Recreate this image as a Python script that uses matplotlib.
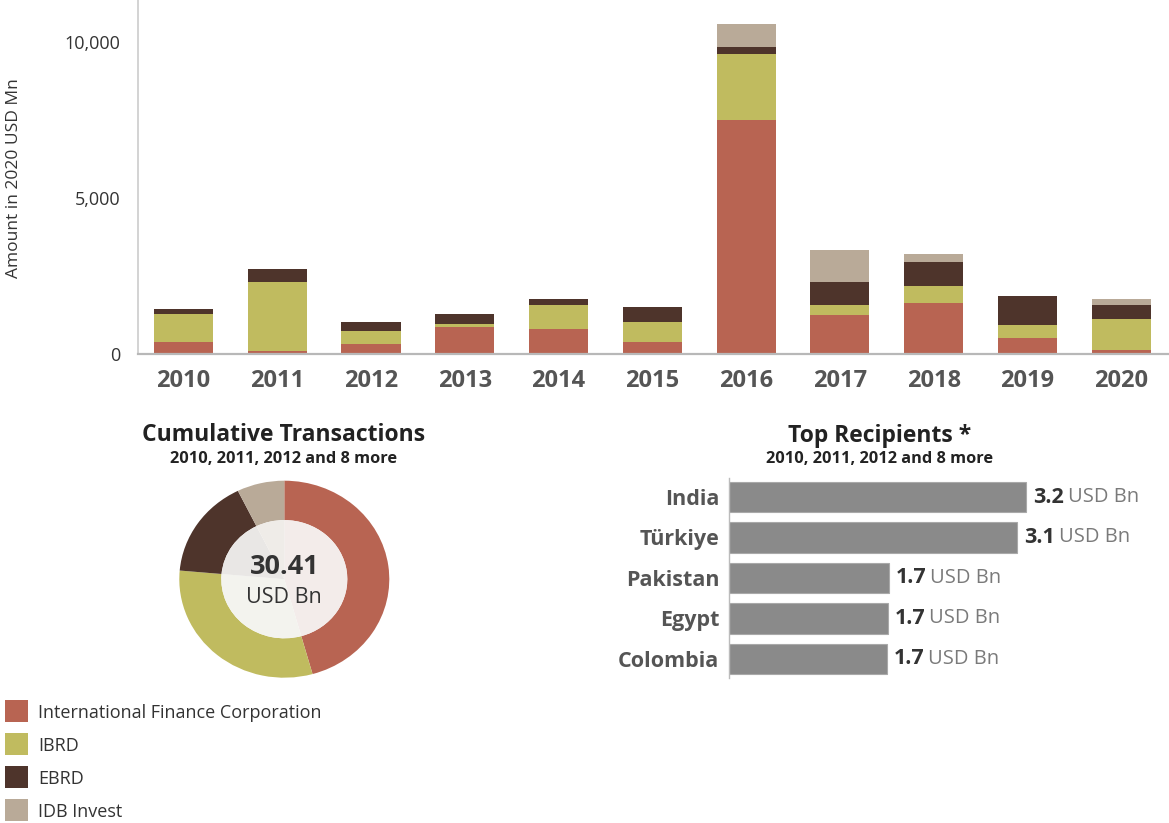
import matplotlib
matplotlib.use("Agg")
import matplotlib.pyplot as plt
import matplotlib.transforms as mtransforms
from matplotlib.patches import Rectangle
import numpy as np

# ---- data (2020 USD Mn) ----
years = ["2010", "2011", "2012", "2013", "2014", "2015", "2016", "2017", "2018", "2019", "2020"]
ifc = [394, 96, 330, 864, 810, 394, 7500, 1238, 1640, 502, 118]
ibrd = [877, 2212, 416, 96, 749, 630, 2090, 320, 522, 426, 1011]
ebrd = [170, 397, 278, 310, 202, 470, 243, 755, 768, 938, 429]
idb = [0, 0, 0, 0, 0, 0, 736, 1010, 278, 0, 192]

lenders = ["International Finance Corporation", "IBRD", "EBRD", "IDB Invest"]
colors = ["#b86452", "#c0bb5f", "#4e342b", "#b9aa98"]

countries = ["India", "Türkiye", "Pakistan", "Egypt", "Colombia"]
recipient_bn = [3.24, 3.14, 1.74, 1.73, 1.72]

y_ticks = [0, 5000, 10000]
y_tick_labels = ["0", "5,000", "10,000"]

period_text = "2010, 2011, 2012 and 8 more"

REG = "Open Sans"
W, H = 1169, 823
fig = plt.figure(figsize=(W / 100, H / 100), dpi=100)
fig.patch.set_facecolor("white")


def box(left, top, right, bottom):
    return [left / W, 1 - bottom / H, (right - left) / W, (bottom - top) / H]


def fpos(x, y):
    return x / W, 1 - y / H


# ---- stacked yearly bars ----
ax = fig.add_axes(box(138, 0, 1169, 354))
x = np.arange(len(years))
series = [ifc, ibrd, ebrd, idb]
bottom = np.zeros(len(years))
for vals, col in zip(series, colors):
    ax.bar(x, vals, width=0.63, bottom=bottom, color=col, linewidth=0)
    bottom += np.array(vals)
ax.set_xlim(-0.485, 10.51)
ax.set_ylim(0, 11330)
ax.set_yticks(y_ticks)
ax.set_yticklabels(y_tick_labels, fontsize=13, color="#333333", family=REG)
# keep the zero label clear of the baseline
zero_lbl = ax.get_yticklabels()[0]
zero_lbl.set_transform(zero_lbl.get_transform() +
                       mtransforms.ScaledTranslation(0, 5 / 100, fig.dpi_scale_trans))
ax.set_xticks(x)
ax.set_xticklabels(years, fontsize=17, fontweight="bold", color="#555555", family=REG)
ax.tick_params(axis="both", length=0)
ax.tick_params(axis="y", pad=13)
ax.tick_params(axis="x", pad=11)
for s in ["top", "right"]:
    ax.spines[s].set_visible(False)
ax.spines["left"].set_color("#d0d0d0")
ax.spines["left"].set_linewidth(1.3)
ax.spines["bottom"].set_color("#b8b8b8")
ax.spines["bottom"].set_linewidth(1.6)
fig.text(*fpos(14, 178), "Amount in 2020 USD Mn", rotation=90, ha="center", va="center",
         fontsize=12.5, color="#333333", family=REG)

# ---- cumulative donut ----
totals = [sum(v) for v in series]
grand_total = sum(totals)
cx, cy = 284.3, 579.2
rx, ry = 105.0, 98.5
hw, hh = 120, 110
dax = fig.add_axes(box(cx - hw, cy - hh, cx + hw, cy + hh))
dax.axis("off")
dax.pie(totals, colors=colors, startangle=90, counterclock=False, radius=1.0,
        wedgeprops=dict(width=0.4, linewidth=0))
pale = ["#f3ecea", "#f3f3ee", "#e9e7e5", "#efece8"]
dax.pie(totals, colors=pale, startangle=90, counterclock=False, radius=0.6,
        wedgeprops=dict(linewidth=0))
dax.set_aspect("auto")
dax.set_xlim(-hw / rx, hw / rx)
dax.set_ylim(-hh / ry, hh / ry)
fig.text(*fpos(cx, 566.7), f"{grand_total / 1000:.2f}", ha="center", va="center",
         fontsize=19.5, fontweight="bold", color="#333333", family=REG)
fig.text(*fpos(cx, 597.7), "USD Bn", ha="center", va="center",
         fontsize=15.5, color="#333333", family=REG)

fig.text(*fpos(284, 435), "Cumulative Transactions", ha="center", va="center",
         fontsize=16.5, fontweight="bold", color="#222222", family=REG)
fig.text(*fpos(284, 459), period_text, ha="center", va="center",
         fontsize=11.8, fontweight="bold", color="#222222", family=REG)

# ---- legend ----
for i, (name, col) in enumerate(zip(lenders, colors)):
    yc = 711 + 33 * i
    fig.add_artist(Rectangle(fpos(5, yc + 11), 23 / W, 22 / H, transform=fig.transFigure,
                             facecolor=col, edgecolor="none"))
    fig.text(*fpos(38, yc + 2), name, ha="left", va="center", fontsize=13,
             color="#333333", family=REG)

# ---- top recipients ----
hax = fig.add_axes(box(729, 478, 1169, 678))
yy = np.arange(len(countries))
hax.barh(yy, recipient_bn, height=0.755, color="#8a8a8a", edgecolor="#a9a9a9", linewidth=0.8)
hax.set_xlim(0, 4.8)
hax.set_ylim(len(countries) - 1 + 0.475, -0.47)
hax.set_xticks([])
hax.set_yticks(yy)
hax.set_yticklabels(countries, fontsize=15.5, fontweight="bold", color="#555555", family=REG)
hax.tick_params(axis="y", length=0, pad=7)
for s in ["top", "right", "bottom"]:
    hax.spines[s].set_visible(False)
hax.spines["left"].set_color("#bbbbbb")
hax.spines["left"].set_linewidth(1.0)
hax.patch.set_alpha(0)
for i, v in enumerate(recipient_bn):
    t1 = hax.annotate(f"{v:.1f}", xy=(v, i), xytext=(5, 0), textcoords="offset points",
                      ha="left", va="center", fontsize=15.5, fontweight="bold",
                      color="#333333", family=REG)
    hax.annotate("USD Bn", xy=(1, 0.5), xycoords=t1, xytext=(3, 0),
                 textcoords="offset points", ha="left", va="center", fontsize=14.5,
                 color="#7a7a7a", family=REG)

fig.text(*fpos(880, 436), "Top Recipients *", ha="center", va="center",
         fontsize=16.5, fontweight="bold", color="#222222", family=REG)
fig.text(*fpos(880, 459), period_text, ha="center", va="center",
         fontsize=11.8, fontweight="bold", color="#222222", family=REG)

fig.savefig("out.png", dpi=100, facecolor="white")
